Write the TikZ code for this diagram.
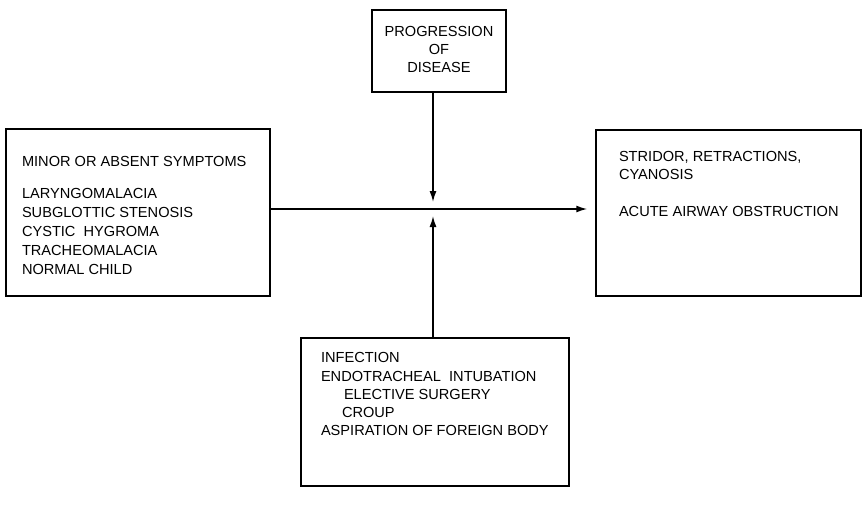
\documentclass[tikz,border=0pt]{standalone}
\usepackage{fontspec}
\setmainfont{Liberation Sans}
\usetikzlibrary{arrows.meta}

\begin{document}
\begin{tikzpicture}[x=1pt,y=-1pt,line width=1.5pt]
    \useasboundingbox (0,0) rectangle (863,504);
    \begin{scope}[every node/.style={rectangle,draw=black,inner sep=0pt}]
        \node[minimum width=264pt,minimum height=167pt] (minor) at (138,212.5) {};
        \node[minimum width=265pt,minimum height=166pt] (acute) at (728.5,213) {};
        \node[minimum width=134pt,minimum height=82pt] (prog) at (439,51) {};
        \node[minimum width=268pt,minimum height=148pt] (cause) at (435,412) {};
    \end{scope}
    \begin{scope}[every node/.style={anchor=north west,inner sep=0pt,align=left,font=\fontsize{14.6}{19}\selectfont}]
        \node (minortext) at ([shift={(16,27.5)}]minor.north west)
            {MINOR OR ABSENT SYMPTOMS\\[13pt]
             LARYNGOMALACIA\\
             SUBGLOTTIC STENOSIS\\
             CYSTIC\ \ HYGROMA\\
             TRACHEOMALACIA\\
             NORMAL CHILD};
        \node[font=\fontsize{14.6}{18}\selectfont] (acutetext) at ([shift={(23,21.5)}]acute.north west)
            {STRIDOR, RETRACTIONS,\\
             CYANOSIS\\[19pt]
             ACUTE AIRWAY OBSTRUCTION};
        \node[anchor=north,align=center,font=\fontsize{14.6}{18}\selectfont] (progtext) at ([yshift=-16.5pt]prog.north)
            {PROGRESSION\\ OF\\ DISEASE};
        \node[font=\fontsize{14.6}{18.3}\selectfont] (causetext) at ([shift={(20,14.5)}]cause.north west)
            {INFECTION\\
             ENDOTRACHEAL\ \ INTUBATION\\
             \hspace*{23pt}ELECTIVE SURGERY\\
             \hspace*{21pt}CROUP\\
             ASPIRATION OF FOREIGN BODY};
    \end{scope}
    \coordinate (join) at (433,209);
    \begin{scope}[every path/.style={-{Latex[length=11pt,width=7pt]}}]
        \draw (minor.east |- join) -- (acute.west |- join) [shorten >=8pt];
        \draw (prog.south -| join) -- (join) [shorten >=7pt];
        \draw (cause.north -| join) -- (join) [shorten >=7pt];
    \end{scope}
\end{tikzpicture}
\end{document}
